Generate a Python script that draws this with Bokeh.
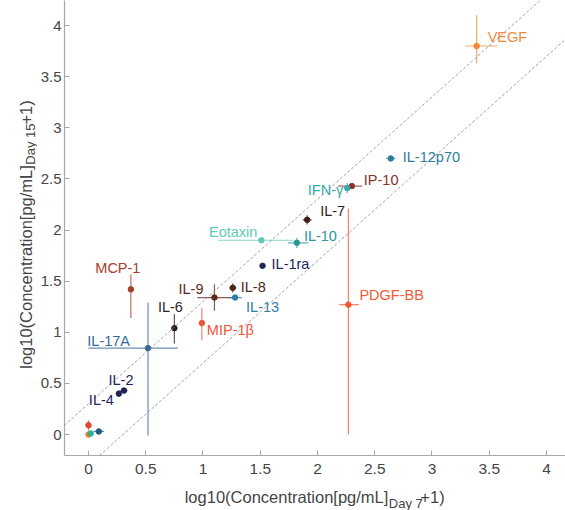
import math
from bokeh.plotting import figure
from bokeh.layouts import row, column
from bokeh.models import Label, Slope, FixedTicker, Range1d, ColumnDataSource
from bokeh.core.properties import value
from bokeh.embed import file_html
from bokeh.resources import INLINE

# ---------------- data ----------------
cytokines = ["VEGF", "IL-12p70", "IP-10", "IFN-γ", "IL-7", "IL-10", "Eotaxin",
             "IL-1ra", "IL-8", "IL-9", "IL-13", "MCP-1", "IL-6", "MIP-1β",
             "IL-17A", "IL-2", "IL-4", "PDGF-BB", "", "", "", ""]
day7 = [3.39, 2.64, 2.30, 2.26, 1.91, 1.82, 1.51, 1.52, 1.26, 1.10, 1.28, 0.37,
        0.75, 0.99, 0.52, 0.31, 0.265, 2.27, 0.0, 0.0, 0.02, 0.09]
day15 = [3.80, 2.70, 2.43, 2.41, 2.10, 1.875, 1.90, 1.65, 1.435, 1.34, 1.34, 1.42,
         1.04, 1.09, 0.845, 0.43, 0.40, 1.27, 0.09, 0.0, 0.01, 0.03]
day7_err_lo = [0.10, 0.04, 0.12, 0.02, 0.04, 0.08, 0.38, 0.02, 0.03, 0.15, 0.06, 0.0,
               0.02, 0.0, 0.52, 0.03, 0.0, 0.08, 0.0, 0.0, 0.0, 0.045]
day7_err_hi = [0.18, 0.04, 0.09, 0.02, 0.04, 0.10, 0.28, 0.02, 0.03, 0.16, 0.06, 0.0,
               0.02, 0.0, 0.26, 0.03, 0.0, 0.09, 0.0, 0.0, 0.0, 0.045]
day15_err_lo = [0.17, 0.0, 0.0, 0.05, 0.045, 0.05, 0.0, 0.02, 0.045, 0.13, 0.0, 0.28,
                0.15, 0.17, 0.855, 0.0, 0.03, 1.27, 0.05, 0.0, 0.0, 0.0]
day15_err_hi = [0.30, 0.0, 0.0, 0.05, 0.045, 0.05, 0.0, 0.02, 0.045, 0.13, 0.0, 0.145,
                0.14, 0.15, 0.445, 0.0, 0.03, 0.94, 0.05, 0.0, 0.03, 0.0]
fold_change = 2

x_ticks = [0, 0.5, 1, 1.5, 2, 2.5, 3, 3.5, 4]
x_tick_labels = ["0", "0.5", "1", "1.5", "2", "2.5", "3", "3.5", "4"]
y_ticks = [0, 0.5, 1, 1.5, 2, 2.5, 3, 3.5, 4]
y_tick_labels = ["0", "0.5", "1", "1.5", "2", "2.5", "3", "3.5", "4"]

x_title = ("log10(Concentration[pg/mL]", "Day 7", "+1)")
y_title = ("log10(Concentration[pg/mL]", "Day 15", "+1)")

# ---------------- styles ----------------
colors = ["#F28A3A", "#2C7D96", "#8A3428", "#37AAAA", "#3A2018", "#2A9799", "#5FCAB6",
          "#20265C", "#4E2616", "#5E2A18", "#2C7EA4", "#A83C2A", "#2E1E1E", "#F0553A",
          "#3A6898", "#1F2258", "#1F2258", "#F25A33", "#E0452E", "#F07A2C", "#2DB0A2",
          "#1C5A82"]
# label placement: (align, dx px, dy px up)
placement = {
    "VEGF": ("left", 11, 9), "IL-12p70": ("left", 12, 1), "IP-10": ("left", 12, 6),
    "IFN-γ": ("right", -4, -2), "IL-7": ("left", 13, 9), "IL-10": ("left", 7, 7),
    "Eotaxin": ("right", -4, 8), "IL-1ra": ("left", 9, 2), "IL-8": ("left", 8, 1),
    "IL-9": ("right", -11, 9), "IL-13": ("left", 11, -9), "MCP-1": ("center", -13, 21),
    "IL-6": ("center", -4, 21), "MIP-1β": ("left", 5, -7), "IL-17A": ("right", -18, 7),
    "IL-2": ("center", -3, 11), "IL-4": ("right", -5, -6), "PDGF-BB": ("left", 11, 10),
}
FONT = "Liberation Sans"
AXIS_GRAY = "#A8A8A8"
TEXT_GRAY = "#454545"
TOTAL_W, TOTAL_H = 565, 510
YT_W = 37      # width of the strip holding the y title
XT_H = 28      # height of the strip holding the x title
MAIN_W, MAIN_H = TOTAL_W - YT_W, TOTAL_H - XT_H

p = figure(width=MAIN_W, height=MAIN_H, output_backend="svg", toolbar_location=None,
           x_range=Range1d(-0.2096, 4.166), y_range=Range1d(-0.205, 4.245),
           min_border_left=64 - YT_W, min_border_right=0, min_border_top=0,
           min_border_bottom=27)
p.title.visible = False
p.outline_line_color = None
p.xgrid.visible = False
p.ygrid.visible = False

p.xaxis.ticker = FixedTicker(ticks=x_ticks)
p.xaxis.major_label_overrides = dict(zip(x_ticks, x_tick_labels))
p.yaxis.ticker = FixedTicker(ticks=y_ticks)
p.yaxis.major_label_overrides = dict(zip(y_ticks, y_tick_labels))
for ax in (p.xaxis[0], p.yaxis[0]):
    ax.axis_line_color = AXIS_GRAY
    ax.axis_line_width = 1.2
    ax.major_tick_line_color = AXIS_GRAY
    ax.major_tick_in = 5
    ax.major_tick_out = 0
    ax.minor_tick_line_color = None
    ax.axis_label_standoff = 0
    ax.major_label_text_font = FONT
    ax.major_label_text_color = TEXT_GRAY
p.xaxis.major_label_text_font_size = "15.5px"
p.yaxis.major_label_text_font_size = "15px"
p.xaxis.major_label_standoff = 8
p.yaxis.major_label_standoff = 3

# fold-change guide lines
off = math.log10(fold_change)
for b in (off, -off):
    p.add_layout(Slope(gradient=1, y_intercept=b, line_color="#8C8C8C",
                       line_width=0.8, line_dash="3 2"))

src = ColumnDataSource(dict(
    x=day7, y=day15, c=colors,
    xl=[a - e for a, e in zip(day7, day7_err_lo)],
    xh=[a + e for a, e in zip(day7, day7_err_hi)],
    yl=[a - e for a, e in zip(day15, day15_err_lo)],
    yh=[a + e for a, e in zip(day15, day15_err_hi)],
))
p.segment(x0="xl", y0="y", x1="xh", y1="y", source=src, line_color="c",
          line_width=1.2, line_alpha=0.75)
p.segment(x0="x", y0="yl", x1="x", y1="yh", source=src, line_color="c",
          line_width=1.2, line_alpha=0.75)
p.scatter(x="x", y="y", source=src, size=5.5, fill_color="c", line_color="c")

for name, xv, yv, col in zip(cytokines, day7, day15, colors):
    if not name:
        continue
    al, dx, dy = placement[name]
    p.add_layout(Label(x=xv, y=yv, text=name, x_offset=dx, y_offset=dy,
                       text_align=al, text_baseline="middle", text_color=col,
                       text_font=FONT, text_font_size="14.5px"))

# ---------------- axis titles with subscripts (in their own strips) ----------------
W = {' ': 278, '(': 333, ')': 333, '+': 584, '-': 333, '.': 278, '/': 278,
     'C': 722, 'D': 722, 'L': 556, '[': 278, ']': 278, 'a': 556, 'c': 500,
     'e': 556, 'g': 556, 'i': 222, 'l': 222, 'm': 833, 'n': 556, 'o': 556,
     'p': 556, 'r': 333, 't': 278, 'y': 500}


def tw(s, size):
    return 0.95 * sum(W.get(ch, 556) for ch in s) * size / 1000.0


MAIN_SZ, SUB_SZ = 16.5, 13.0


def strip(w, h):
    f = figure(width=w, height=h, output_backend="svg", toolbar_location=None,
               x_range=Range1d(0, w), y_range=Range1d(0, h),
               x_axis_type=None, y_axis_type=None,
               min_border_left=0, min_border_right=0, min_border_top=0,
               min_border_bottom=0)
    f.title.visible = False
    f.outline_line_color = None
    return f


def title_parts(parts):
    main, sub, tail = parts
    wm, ws, wt = tw(main, MAIN_SZ), tw(sub, SUB_SZ), tw(tail, MAIN_SZ)
    total = wm + ws + wt + 1.5
    a = -total / 2 + wm
    return a, ws


common = dict(text_font=value(FONT), text_color=TEXT_GRAY, text_baseline="middle")

# x title strip: title centred under the axis
xt = strip(MAIN_W, XT_H)
a, ws = title_parts(x_title)
cx = 310 - YT_W
xt.text(x=[cx + a], y=[14], text=[x_title[0]], text_align="right",
        text_font_size=value(f"{MAIN_SZ}px"), **common)
xt.text(x=[cx + a + 0.5], y=[7], text=[x_title[1]], text_align="left",
        text_font_size=value(f"{SUB_SZ}px"), **common)
xt.text(x=[cx + a + ws + 1.5], y=[14], text=[x_title[2]], text_align="left",
        text_font_size=value(f"{MAIN_SZ}px"), **common)

# y title strip (rotated)
yt = strip(YT_W, TOTAL_H)
a, ws = title_parts(y_title)
cy = TOTAL_H - 229.5
ang = math.pi / 2
yt.text(x=[25], y=[cy + a], text=[y_title[0]], angle=ang, text_align="right",
        text_font_size=value(f"{MAIN_SZ}px"), **common)
yt.text(x=[30], y=[cy + a + 0.5], text=[y_title[1]], angle=ang, text_align="left",
        text_font_size=value(f"{SUB_SZ}px"), **common)
yt.text(x=[25], y=[cy + a + ws + 1.5], text=[y_title[2]], angle=ang, text_align="left",
        text_font_size=value(f"{MAIN_SZ}px"), **common)

layout = row(yt, column(p, xt))
open("out.html", "w").write(file_html(layout, INLINE))
